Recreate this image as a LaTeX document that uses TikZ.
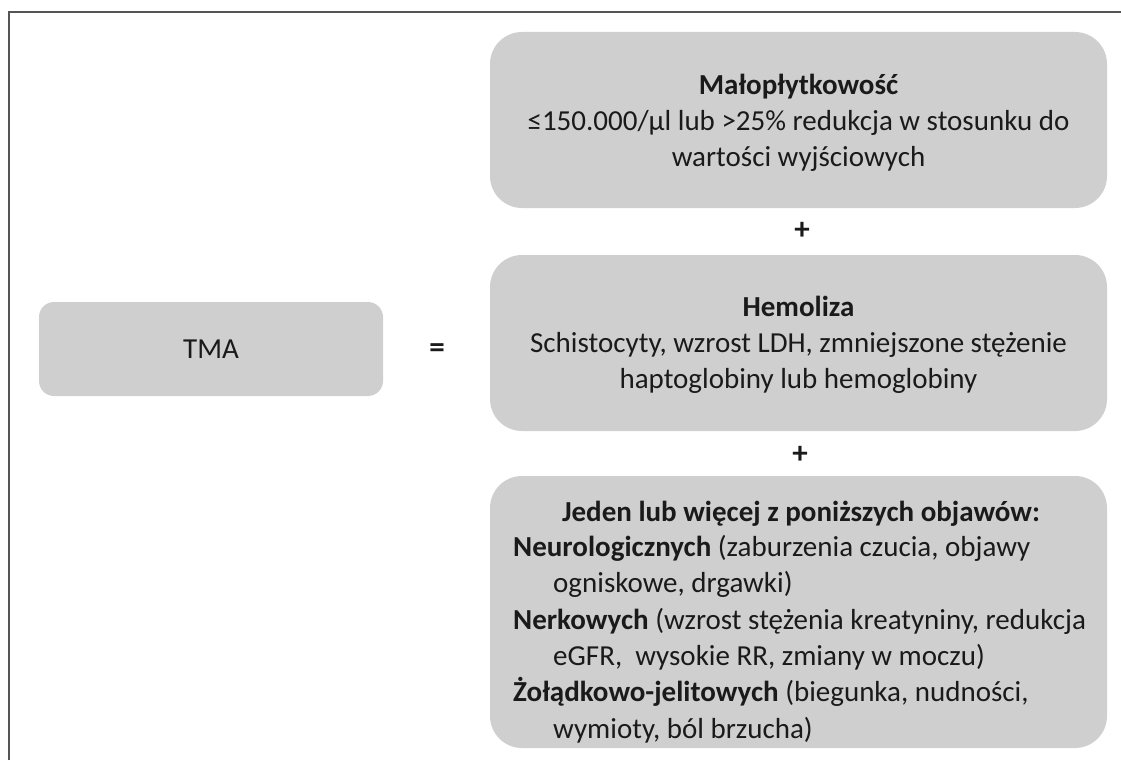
\documentclass[tikz,border=0pt]{standalone}
\usepackage{fontspec}
\setmainfont{Carlito}
\definecolor{boxgray}{HTML}{CFCFCF}
\definecolor{framegray}{HTML}{555555}
\definecolor{ink}{HTML}{1A1A1A}
\begin{document}
\begin{tikzpicture}[x=1pt,y=-1pt,
  box/.style={fill=boxgray, draw=none, rounded corners=32pt, inner sep=0pt, text=ink},
  smallbox/.style={fill=boxgray, draw=none, rounded corners=15pt, inner sep=0pt, text=ink},
  txt/.style={font=\fontsize{29}{36.3}\selectfont, text=ink, inner sep=0pt},
  sym/.style={font=\fontsize{31}{36}\selectfont\bfseries, text=ink, inner sep=0pt}]
\useasboundingbox (0,0) rectangle (1121,760);
% frame
\draw[framegray, line width=2pt] (9,760) -- (9,12) -- (1121,12);
% boxes
\node[smallbox, minimum width=344pt, minimum height=94pt] (tma) at (211,349) {};
\node[txt] (tmat) at (tma.center) {TMA};
\node[sym] (eq) at (437,351) {=};

\node[box, minimum width=617pt, minimum height=176pt] (b1) at (798.5,120) {};
\node[txt, align=center] (b1t) at (798.5,123) {\textbf{Małopłytkowość}\\ ≤150.000/µl lub >25\% redukcja w stosunku do\\ wartości wyjściowych};

\node[sym] (p1) at (802,231) {+};

\node[box, minimum width=617pt, minimum height=176pt] (b2) at (798.5,343) {};
\node[txt, align=center] (b2t) at (798.5,345) {\textbf{Hemoliza}\\ Schistocyty, wzrost LDH, zmniejszone stężenie\\ haptoglobiny lub hemoglobiny};

\node[sym] (p2) at (800,455) {+};

\node[box, minimum width=617pt, minimum height=272pt] (b3) at (798.5,612) {};
\node[txt] (b3h) at (801,514) {\textbf{Jeden lub więcej z poniższych objawów:}};
\node[txt, align=left, anchor=west] (b3t) at (513,639) {\textbf{Neurologicznych} (zaburzenia czucia, objawy\\
\hspace*{40pt}ogniskowe, drgawki)\\
\textbf{Nerkowych} (wzrost stężenia kreatyniny, redukcja\\
\hspace*{40pt}eGFR,\ \ wysokie RR, zmiany w moczu)\\
\textbf{Żołądkowo-jelitowych} (biegunka, nudności,\\
\hspace*{40pt}wymioty, ból brzucha)};
\end{tikzpicture}
\end{document}
